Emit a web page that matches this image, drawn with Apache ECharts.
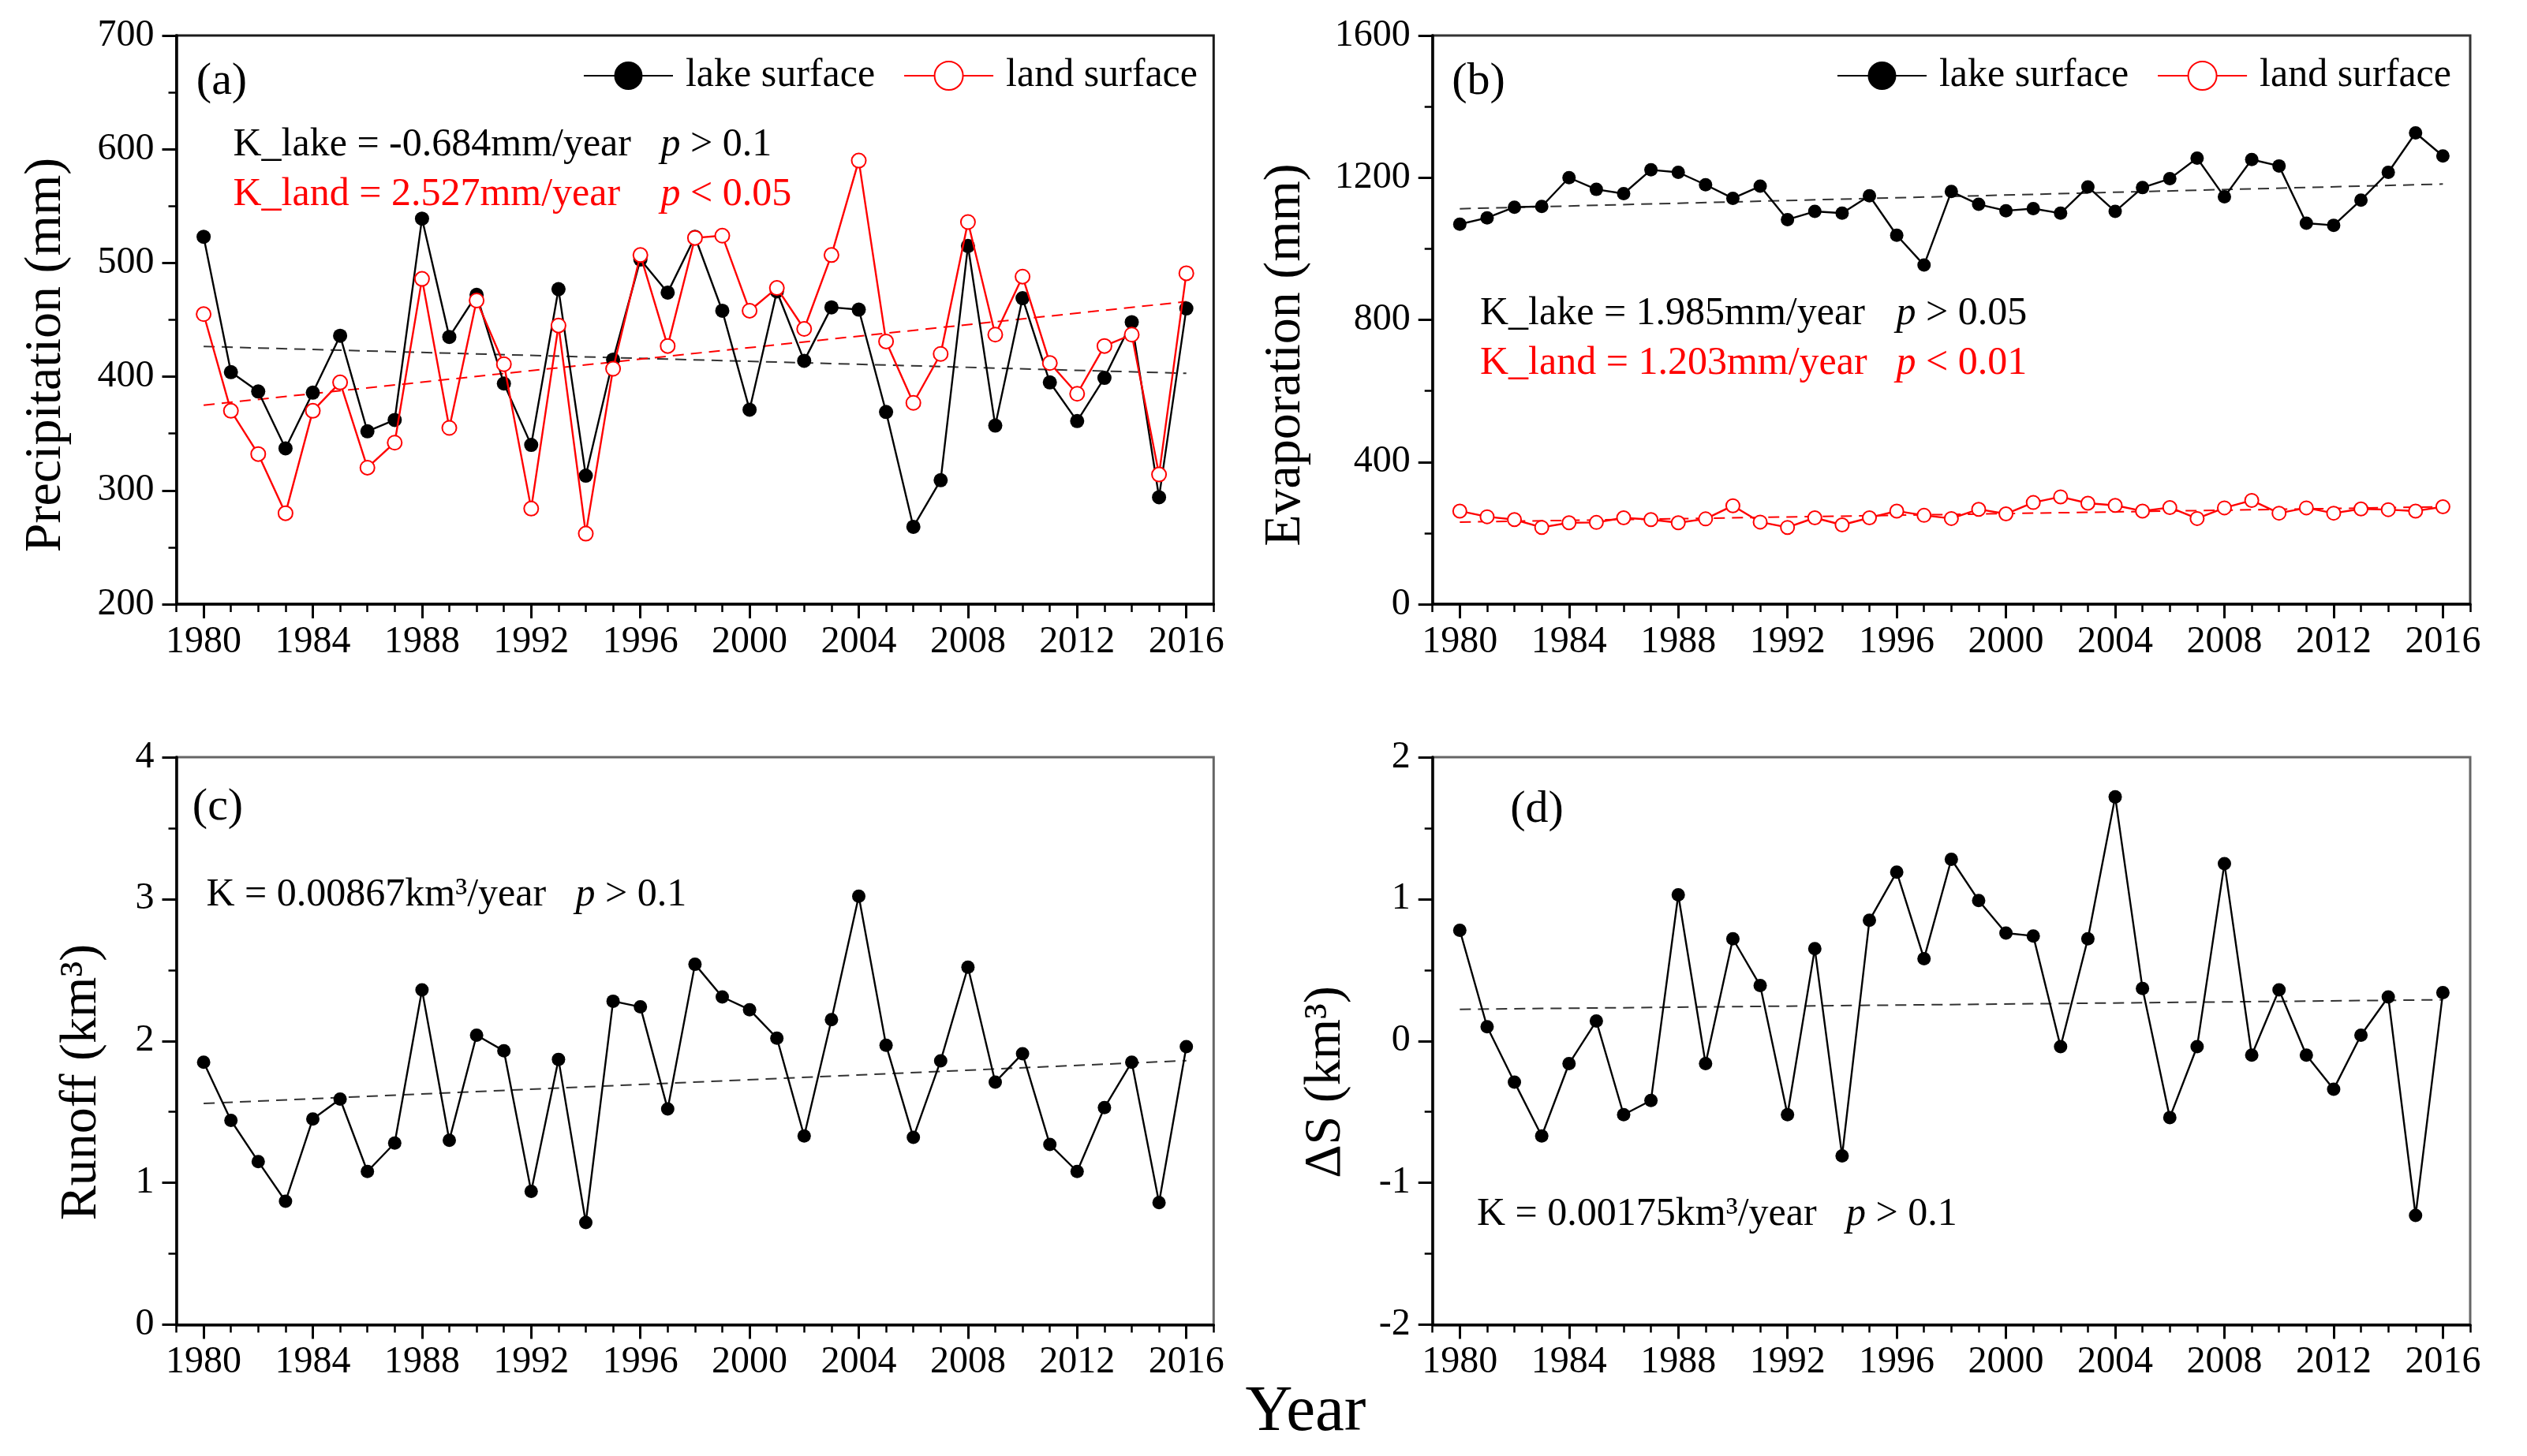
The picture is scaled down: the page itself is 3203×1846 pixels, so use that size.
<!DOCTYPE html>
<html>
<head>
<meta charset="utf-8">
<script src="https://cdn.jsdelivr.net/npm/echarts@6/dist/echarts.min.js"></script>
<style>
html,body{margin:0;padding:0;background:#fff;}
#chart{width:3203px;height:1846px;}
</style>
</head>
<body>
<div id="chart"></div>
<script>
// ---------------- data ----------------
const years = [1980,1981,1982,1983,1984,1985,1986,1987,1988,1989,1990,1991,1992,1993,1994,1995,1996,1997,1998,1999,2000,2001,2002,2003,2004,2005,2006,2007,2008,2009,2010,2011,2012,2013,2014,2015,2016];
const yearTicks = [1980,1984,1988,1992,1996,2000,2004,2008,2012,2016];

const precipLake = [523,404,387,337,386,436,352,362,539,435,472,394,340,477,313,415,503,474,523,458,371,475,414,461,459,369,268,309,515,357,469,395,361,399,448,294,460];
const precipLand = [455,370,332,280,370,395,320,342,486,355,467,411,284,445,262,407,507,427,522,524,458,478,442,507,590,431,377,420,536,437,488,412,385,427,437,314,491];
const precipLakeTrend = [[1980,426.6],[2016,403]];
const precipLandTrend = [[1980,375],[2016,466]];

const evapLake = [1069,1087,1117,1119,1200,1167,1155,1222,1215,1180,1142,1176,1082,1105,1100,1149,1038,954,1161,1125,1107,1113,1100,1174,1105,1172,1197,1255,1146,1251,1233,1072,1066,1137,1215,1326,1261];
const evapLand = [262,246,238,216,229,230,243,238,229,240,277,231,216,243,223,243,262,250,241,267,254,286,302,284,278,262,272,241,271,292,256,271,256,268,266,262,274];
const evapLakeTrend = [[1980,1112.6],[2016,1182]];
const evapLandTrend = [[1980,231],[2016,274]];

const runoff = [1.85,1.44,1.15,0.87,1.45,1.59,1.08,1.28,2.36,1.30,2.04,1.93,0.94,1.87,0.72,2.28,2.24,1.52,2.54,2.31,2.22,2.02,1.33,2.15,3.02,1.97,1.32,1.86,2.52,1.71,1.91,1.27,1.08,1.53,1.85,0.86,1.96];
const runoffTrend = [[1980,1.559],[2016,1.861]];

const deltaS = [0.78,0.10,-0.29,-0.67,-0.16,0.14,-0.52,-0.42,1.03,-0.16,0.72,0.39,-0.52,0.65,-0.81,0.85,1.19,0.58,1.28,0.99,0.76,0.74,-0.04,0.72,1.72,0.37,-0.54,-0.04,1.25,-0.10,0.36,-0.10,-0.34,0.04,0.31,-1.23,0.34];
const deltaSTrend = [[1980,0.223],[2016,0.29]];

const legendNames = ['lake surface','land surface'];

// ---------------- styling / layout ----------------
const FF = "'Liberation Serif','Times New Roman',serif";
const RED = '#ff0000';
const TREND_BLACK = '#333';
const pairs = ys => years.map((y, i) => [y, ys[i]]);
const plain = v => String(v);

const grids = [
  {left:223.5, top:45, width:1314.8, height:721, borderColor:'#1a1a1a'},
  {left:1815.7, top:45, width:1315.3, height:721, borderColor:'#333'},
  {left:223.5, top:960, width:1314.8, height:719.5, borderColor:'#666'},
  {left:1815.7, top:960, width:1315.3, height:719.5, borderColor:'#666'}
].map(g => Object.assign({show:true, borderWidth:3, backgroundColor:'transparent'}, g));

const xAxes = [];
for (let g = 0; g < 4; g++) {
  xAxes.push({
    type:'value', gridIndex:g, position:'bottom', min:1979, max:2017, interval:1,
    axisLine:{show:true, onZero:false, lineStyle:{color:'#000', width:3.5}},
    axisTick:{show:true, length:10, lineStyle:{color:'#000', width:2.5}},
    axisLabel:{show:false}, splitLine:{show:false}
  });
  xAxes.push({
    type:'value', gridIndex:g, position:'bottom', offset:0, min:1979, max:2017, interval:1,
    axisLine:{show:false, onZero:false},
    axisTick:{show:true, customValues:yearTicks, length:18, lineStyle:{color:'#000', width:3}},
    axisLabel:{show:true, customValues:yearTicks, formatter:plain, margin:24, fontSize:48, fontFamily:FF, color:'#000'},
    splitLine:{show:false}
  });
}

const yRanges = [[200,700,100],[0,1600,400],[0,4,1],[-2,2,1]];
const yAxes = yRanges.map((r, g) => ({
  type:'value', gridIndex:g, position:'left', min:r[0], max:r[1], interval:r[2],
  axisLine:{show:true, onZero:false, lineStyle:{color:'#000', width:3.5}},
  axisTick:{show:true, length:18, lineStyle:{color:'#000', width:3}},
  minorTick:{show:true, splitNumber:2, length:10, lineStyle:{color:'#000', width:2.5}},
  axisLabel:{margin:28, formatter:plain, fontSize:48, fontFamily:FF, color:'#000'},
  splitLine:{show:false}, minorSplitLine:{show:false}
}));

function trend(name, g, data, color) {
  return {name, type:'line', xAxisIndex:2*g, yAxisIndex:g, data, symbol:'none', silent:true,
    lineStyle:{color, width:2, type:[14,9]}, z:1};
}
function lakeSeries(g, data, size) {
  return {name:'lake surface', type:'line', xAxisIndex:2*g, yAxisIndex:g, data:pairs(data),
    symbol:'circle', symbolSize:size, showSymbol:true,
    lineStyle:{color:'#000', width:2.4}, itemStyle:{color:'#000'}, z:3};
}
function landSeries(g, data, size) {
  return {name:'land surface', type:'line', xAxisIndex:2*g, yAxisIndex:g, data:pairs(data),
    symbol:'circle', symbolSize:size, showSymbol:true,
    lineStyle:{color:RED, width:2.4}, itemStyle:{color:'#fff', borderColor:RED, borderWidth:2}, z:4};
}

const series = [
  trend('trendA1', 0, precipLakeTrend, TREND_BLACK),
  trend('trendA2', 0, precipLandTrend, RED),
  lakeSeries(0, precipLake, 18),
  landSeries(0, precipLand, 18),
  trend('trendB1', 1, evapLakeTrend, TREND_BLACK),
  trend('trendB2', 1, evapLandTrend, RED),
  lakeSeries(1, evapLake, 17),
  landSeries(1, evapLand, 17),
  trend('trendC', 2, runoffTrend, TREND_BLACK),
  {name:'runoff', type:'line', xAxisIndex:4, yAxisIndex:2, data:pairs(runoff), symbol:'circle', symbolSize:17,
    lineStyle:{color:'#000', width:2.4}, itemStyle:{color:'#000'}, z:3},
  trend('trendD', 3, deltaSTrend, TREND_BLACK),
  {name:'deltaS', type:'line', xAxisIndex:6, yAxisIndex:3, data:pairs(deltaS), symbol:'circle', symbolSize:17,
    lineStyle:{color:'#000', width:2.4}, itemStyle:{color:'#000'}, z:3}
];

const legendBase = {
  data:legendNames, orient:'horizontal', top:66, itemWidth:113, itemHeight:45, itemGap:36,
  selectedMode:false,
  textStyle:{fontSize:50, fontFamily:FF, color:'#000', padding:[0,0,0,11], lineHeight:50}
};
const legends = [
  Object.assign({}, legendBase, {right:1680}),
  Object.assign({}, legendBase, {right:91})
];

function txt(text, x, y, size, color, align, extra) {
  return Object.assign({
    type:'text', x, y, silent:true,
    style:{text, fontSize:size, fontFamily:FF, fill:color, textAlign:align || 'left', textVerticalAlign:'middle'}
  }, extra || {});
}
function ptxt(rest, x, y, size, color) {
  return {
    type:'text', x, y, silent:true,
    style:{text:'{i|p}{n|' + rest + '}', fontSize:size, fontFamily:FF, fill:color, textAlign:'left', textVerticalAlign:'middle',
      rich:{
        i:{fontStyle:'italic', fontSize:size, fontFamily:FF, fill:color},
        n:{fontSize:size, fontFamily:FF, fill:color}
      }}
  };
}
const ROT = {rotation:Math.PI/2};
const graphics = [
  txt('(a)', 281, 104, 58, '#000', 'center'),
  txt('(b)', 1874, 104, 58, '#000', 'center'),
  txt('(c)', 276, 1024, 58, '#000', 'center'),
  txt('(d)', 1948, 1027, 58, '#000', 'center'),
  txt('K_lake = -0.684mm/year', 295.5, 184, 50, '#000'),
  ptxt(' > 0.1', 837.5, 184, 50, '#000'),
  txt('K_land = 2.527mm/year', 295.5, 247, 50, RED),
  ptxt(' < 0.05', 837.5, 247, 50, RED),
  txt('K_lake = 1.985mm/year', 1876, 398, 50, '#000'),
  ptxt(' > 0.05', 2403.5, 398, 50, '#000'),
  txt('K_land = 1.203mm/year', 1876, 461, 50, RED),
  ptxt(' < 0.01', 2403.5, 461, 50, RED),
  txt('K = 0.00867km³/year', 261.5, 1135, 50, '#000'),
  ptxt(' > 0.1', 729.6, 1135, 50, '#000'),
  txt('K = 0.00175km³/year', 1872, 1539.5, 50, '#000'),
  ptxt(' > 0.1', 2340, 1539.5, 50, '#000'),
  txt('Precipitation (mm)', 59, 450, 66, '#000', 'center', ROT),
  txt('Evaporation (mm)', 1630, 450, 66, '#000', 'center', ROT),
  txt('Runoff (km³)', 104, 1372, 66, '#000', 'center', ROT),
  txt('ΔS (km³)', 1681, 1372, 66, '#000', 'center', ROT),
  txt('Year', 1655, 1791, 83, '#000', 'center')
];

const chart = echarts.init(document.getElementById('chart'), null, {renderer:'canvas'});
chart.setOption({
  backgroundColor:'#fff',
  animation:false,
  textStyle:{fontFamily:FF},
  grid:grids,
  xAxis:xAxes,
  yAxis:yAxes,
  legend:legends,
  series,
  graphic:graphics
});
</script>
</body>
</html>
